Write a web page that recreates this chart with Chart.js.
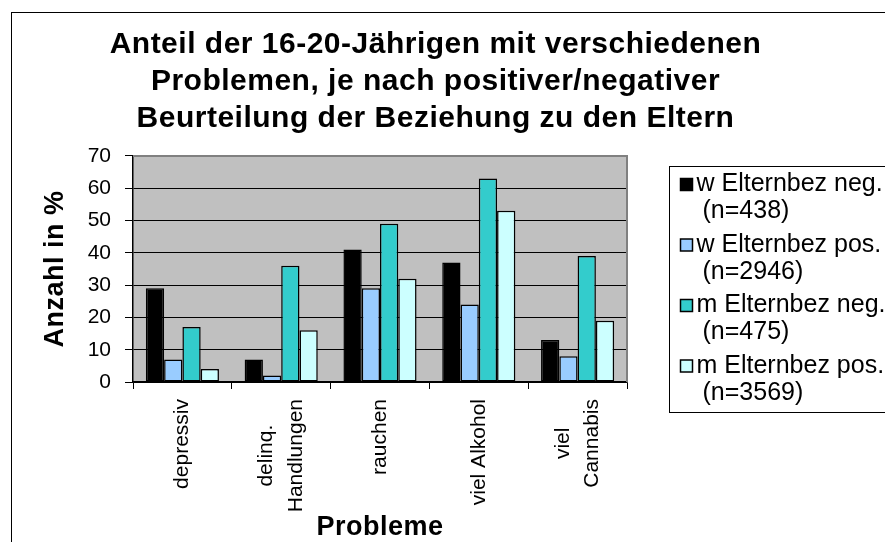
<!DOCTYPE html>
<html>
<head>
<meta charset="utf-8">
<script src="https://cdn.jsdelivr.net/npm/chart.js@4.4.0/dist/chart.umd.min.js"></script>
<style>
  html, body { margin: 0; padding: 0; background: #fff; }
  #wrap { width: 885px; height: 542px; position: relative; }
</style>
</head>
<body>
<div id="wrap"><canvas id="chart"></canvas></div>
<script>
// categories + series
const problems = ['depressiv', ['delinq.', 'Handlungen'], 'rauchen', 'viel Alkohol', ['viel', 'Cannabis']]
const seriesNames = ['w Elternbez neg.', 'w Elternbez pos.', 'm Elternbez neg.', 'm Elternbez pos.']
const seriesCounts = ['(n=438)', '(n=2946)', '(n=475)', '(n=3569)']
const seriesColors = ['#000000', '#99ccff', '#33cccc', '#ccffff']
const wNeg = [29, 7, 41, 37, 13]
const wPos = [7, 2, 29, 24, 8]
const mNeg = [17, 36, 49, 63, 39]
const mPos = [4, 16, 32, 53, 19]
const yTicks = [0, 10, 20, 30, 40, 50, 60, 70]

const FONT = "'Liberation Sans', Arial, sans-serif"

// legend on the right, drawn as its own layout box
const sideLegend = {
  id: 'sideLegend',
  beforeInit(chart) {
    const box = {
      position: 'right', weight: 10, fullSize: false, options: {},
      left: 0, top: 0, right: 0, bottom: 0, width: 0, height: 0,
      isHorizontal() { return false },
      getPadding() { return { top: 0, left: 0, right: 0, bottom: 0 } },
      update(maxWidth, maxHeight) { this.width = 244; this.height = maxHeight },
      draw() {
        const ctx = chart.ctx
        const x0 = Math.round(this.left) + 42.5
        const y0 = 166.5
        ctx.save()
        ctx.letterSpacing = '0px'
        ctx.strokeStyle = '#000'
        ctx.lineWidth = 1
        ctx.strokeRect(x0, y0, 300, 246)
        ctx.font = '25px ' + FONT
        ctx.textBaseline = 'middle'
        chart.data.datasets.forEach((ds, i) => {
          const y = y0 + 18 + i * 60.5
          ctx.fillStyle = ds.backgroundColor
          ctx.fillRect(x0 + 11, y - 6, 12, 12)
          ctx.lineWidth = 1.5
          ctx.strokeRect(x0 + 11, y - 6, 12, 12)
          ctx.fillStyle = '#000'
          ctx.fillText(seriesNames[i], x0 + 27, y)
          ctx.fillText(seriesCounts[i], x0 + 33, y + 27)
        })
        ctx.restore()
      }
    }
    Chart.layouts.addBox(chart, box)
  }
}

// two-line category labels: centre the pair on the tick, centre short line on long one
const centerMultiLine = {
  id: 'centerMultiLine',
  afterLayout(chart) {
    const s = chart.scales.x
    const items = s.getLabelItems()
    const ctx = chart.ctx
    const out = []
    ctx.save()
    ctx.letterSpacing = '0px'
    items.forEach(it => {
      if (!Array.isArray(it.label)) { out.push(it); return }
      const lh = it.font.lineHeight
      ctx.font = it.font.string
      const widths = it.label.map(t => ctx.measureText(t).width)
      const maxW = Math.max(...widths)
      const [tx, ty] = it.options.translation
      it.label.forEach((t, j) => {
        out.push({
          ...it,
          label: t,
          textOffset: it.textOffset + j * lh,
          options: { ...it.options, translation: [tx - (it.label.length - 1) * lh / 2, ty + (maxW - widths[j]) / 2] }
        })
      })
    })
    ctx.restore()
    s._labelItems = out
  }
}

const frame = {
  id: 'frame',
  beforeDraw(chart) {
    const { ctx, chartArea: a } = chart
    ctx.save()
    ctx.fillStyle = '#fff'
    ctx.fillRect(0, 0, chart.width, chart.height)
    ctx.strokeStyle = '#000'
    ctx.lineWidth = 1
    ctx.strokeRect(11.5, 12.5, 1000, 1000)
    ctx.fillStyle = '#c0c0c0'
    ctx.fillRect(a.left, a.top, a.right - a.left, a.bottom - a.top)
    ctx.restore()
    // slight tracking for the bold titles
    ctx.letterSpacing = '0.5px'
  },
  beforeDatasetsDraw(chart) {
    const { ctx, chartArea: a } = chart
    ctx.letterSpacing = '0px'
    ctx.save()
    ctx.strokeStyle = '#808080'
    ctx.lineWidth = 2
    ctx.beginPath()
    ctx.moveTo(a.left, a.top)
    ctx.lineTo(a.right, a.top)
    ctx.lineTo(a.right, a.bottom)
    ctx.stroke()
    ctx.restore()
  }
}

const seriesData = [wNeg, wPos, mNeg, mPos]

new Chart(document.getElementById('chart'), {
  type: 'bar',
  data: {
    labels: problems,
    datasets: seriesData.map((d, i) => ({
      label: seriesNames[i] + ' ' + seriesCounts[i],
      data: d,
      backgroundColor: seriesColors[i],
      borderColor: '#000',
      borderWidth: 1.5,
      borderSkipped: false,
      categoryPercentage: 0.74,
      barPercentage: 1.0
    }))
  },
  options: {
    responsive: true,
    maintainAspectRatio: false,
    animation: false,
    layout: { padding: { left: 0, right: 14, top: 0, bottom: 0 } },
    plugins: {
      legend: { display: false },
      tooltip: { enabled: false },
      title: {
        display: true,
        text: ['Anteil der 16-20-Jährigen mit verschiedenen', 'Problemen, je nach positiver/negativer', 'Beurteilung der Beziehung zu den Eltern'],
        color: '#000',
        font: { family: FONT, size: 30, weight: 'bold', lineHeight: 1.233 },
        padding: { top: 26, bottom: 19 }
      }
    },
    scales: {
      x: {
        grid: { display: true, drawOnChartArea: false, drawTicks: true, tickLength: 7, color: '#000', offset: true },
        border: { color: '#000', width: 1.5 },
        ticks: {
          maxRotation: 90, minRotation: 90, autoSkip: false, padding: 10, color: '#000', z: 1,
          font: { family: FONT, size: 21, lineHeight: 1.4 }
        },
        title: {
          display: true, text: 'Probleme', color: '#000', padding: 0,
          font: { family: FONT, size: 27, weight: 'bold', lineHeight: 1.1 }
        },
        afterFit(s) { s.height = 160 }
      },
      y: {
        min: yTicks[0],
        max: yTicks[yTicks.length - 1],
        ticks: { stepSize: 10, padding: 14, color: '#000', z: 1, font: { family: FONT, size: 21 } },
        grid: { color: '#000', tickLength: 8, lineWidth: 1 },
        border: { color: '#000', width: 1.5 },
        title: {
          display: true, text: 'Anzahl in %', color: '#000', padding: { top: 39, bottom: 0 },
          font: { family: FONT, size: 27, weight: 'bold', lineHeight: 1.2 }
        },
        afterFit(s) { s.width = 133 }
      }
    }
  },
  plugins: [frame, sideLegend, centerMultiLine]
})
</script>
</body>
</html>
